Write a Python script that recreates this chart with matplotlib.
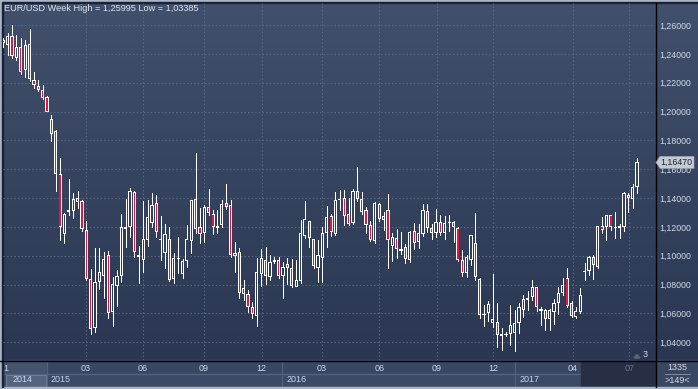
import numpy as np
import matplotlib
matplotlib.use("Agg")
import matplotlib.pyplot as plt
from matplotlib.patches import Rectangle, Polygon
from matplotlib.ticker import FixedLocator

plt.rcParams["font.family"] = ["Liberation Sans", "DejaVu Sans"]

W, H, DPI = 698, 389, 100

# ---------------- data (weekly EUR/USD candles) ----------------
open_ = [1.2475, 1.2461, 1.2524, 1.2369, 1.2445, 1.2288, 1.2466, 1.2216, 1.2175, 1.2147,
         1.2101, 1.1948, 1.1865, 1.1564, 1.1150, 1.1301, 1.1310, 1.1398, 1.1379, 1.1176,
         1.0838, 1.0496, 1.0820, 1.0861, 1.1002, 1.0612, 1.0792, 1.0861, 1.1183, 1.1197,
         1.1442, 1.1007, 1.0970, 1.1109, 1.1225, 1.1363, 1.1111, 1.1016, 1.1113, 1.0836,
         1.0975, 1.0871, 1.0963, 1.1102, 1.1391, 1.1197, 1.1155, 1.1340, 1.1287, 1.1190,
         1.1216, 1.1362, 1.1350, 1.1016, 1.1023, 1.0732, 1.0732, 1.0642, 1.0584, 1.0870,
         1.0969, 1.0854, 1.0958, 1.0969, 1.0861, 1.0942, 1.0916, 1.0785, 1.0824, 1.1138,
         1.1239, 1.1115, 1.0912, 1.0986, 1.1159, 1.1274, 1.1149, 1.1385, 1.1403, 1.1286,
         1.1230, 1.1449, 1.1396, 1.1316, 1.1216, 1.1103, 1.1355, 1.1246, 1.1320, 1.1069,
         1.1126, 1.1043, 1.1062, 1.0969, 1.1170, 1.1092, 1.1149, 1.1309, 1.1189, 1.1156,
         1.1232, 1.1156, 1.1230, 1.1237, 1.1193, 1.0971, 1.0879, 1.0971, 1.1087, 1.0837,
         1.0587, 1.0601, 1.0532, 1.0543, 1.0444, 1.0451, 1.0458, 1.0462, 1.0532, 1.0624,
         1.0694, 1.0710, 1.0786, 1.0629, 1.0620, 1.0560, 1.0608, 1.0675, 1.0740, 1.0844,
         1.0671, 1.0573, 1.0606, 1.0886, 1.0897, 1.0990, 1.0920, 1.1207, 1.1198, 1.1281,
         1.1191, 1.1207, 1.1198, 1.1422, 1.1394, 1.1475]
high = [1.2508, 1.2542, 1.2600, 1.2531, 1.2508, 1.2496, 1.2572, 1.2272, 1.2216, 1.2184,
        1.2108, 1.1976, 1.1872, 1.1680, 1.1294, 1.1532, 1.1437, 1.1449, 1.1386, 1.1238,
        1.0908, 1.1051, 1.1051, 1.1028, 1.1035, 1.0854, 1.0901, 1.1289, 1.1395, 1.1472,
        1.1449, 1.1069, 1.1382, 1.1386, 1.1432, 1.1421, 1.1275, 1.1220, 1.1197, 1.1016,
        1.1127, 1.0975, 1.1213, 1.1386, 1.1710, 1.1333, 1.1352, 1.1462, 1.1317, 1.1317,
        1.1385, 1.1495, 1.1385, 1.1092, 1.1050, 1.0831, 1.0762, 1.0681, 1.0981, 1.1046,
        1.1062, 1.1004, 1.0993, 1.0993, 1.0958, 1.0981, 1.0976, 1.0969, 1.1246, 1.1378,
        1.1239, 1.1119, 1.1108, 1.1200, 1.1343, 1.1292, 1.1442, 1.1454, 1.1454, 1.1401,
        1.1461, 1.1615, 1.1442, 1.1339, 1.1239, 1.1373, 1.1366, 1.1304, 1.1426, 1.1159,
        1.1182, 1.1161, 1.1080, 1.1170, 1.1228, 1.1223, 1.1357, 1.1357, 1.1219, 1.1323,
        1.1283, 1.1272, 1.1283, 1.1242, 1.1202, 1.1041, 1.1006, 1.1142, 1.1299, 1.0844,
        1.0659, 1.0689, 1.0874, 1.0671, 1.0497, 1.0469, 1.0659, 1.0624, 1.0671, 1.0724,
        1.0758, 1.0832, 1.0786, 1.0643, 1.0629, 1.0629, 1.0701, 1.0786, 1.0844, 1.0913,
        1.0689, 1.0647, 1.0775, 1.0948, 1.0999, 1.1006, 1.1207, 1.1267, 1.1283, 1.1283,
        1.1306, 1.1221, 1.1440, 1.1434, 1.1496, 1.1676]
low = [1.2450, 1.2392, 1.2369, 1.2357, 1.2260, 1.2242, 1.2212, 1.2161, 1.2142, 1.2087,
       1.1995, 1.1798, 1.1451, 1.1109, 1.1090, 1.1282, 1.1264, 1.1333, 1.1174, 1.0831,
       1.0457, 1.0473, 1.0767, 1.0709, 1.0566, 1.0515, 1.0653, 1.0820, 1.1063, 1.1132,
       1.0993, 1.0813, 1.0884, 1.1069, 1.1201, 1.1132, 1.0970, 1.0912, 1.0827, 1.0808,
       1.0878, 1.0848, 1.0924, 1.1016, 1.1155, 1.1086, 1.1097, 1.1282, 1.1148, 1.1155,
       1.1200, 1.1322, 1.0993, 1.0889, 1.0704, 1.0693, 1.0612, 1.0566, 1.0515, 1.0792,
       1.0803, 1.0831, 1.0951, 1.0847, 1.0704, 1.0801, 1.0785, 1.0780, 1.0808, 1.1126,
       1.1062, 1.0916, 1.0820, 1.0820, 1.1057, 1.1138, 1.1143, 1.1316, 1.1216, 1.1216,
       1.1223, 1.1380, 1.1292, 1.1154, 1.1101, 1.1089, 1.1242, 1.1177, 1.0912, 1.0963,
       1.0981, 1.1009, 1.0951, 1.0953, 1.1046, 1.1050, 1.1136, 1.1161, 1.1119, 1.1133,
       1.1145, 1.1117, 1.1168, 1.1098, 1.0960, 1.0856, 1.0849, 1.0936, 1.0828, 1.0567,
       1.0509, 1.0548, 1.0504, 1.0370, 1.0347, 1.0444, 1.0382, 1.0338, 1.0462, 1.0578,
       1.0624, 1.0694, 1.0613, 1.0520, 1.0486, 1.0486, 1.0527, 1.0597, 1.0728, 1.0647,
       1.0578, 1.0567, 1.0601, 1.0832, 1.0867, 1.0837, 1.0913, 1.1156, 1.1110, 1.1179,
       1.1121, 1.1121, 1.1168, 1.1306, 1.1329, 1.1434]
close = [1.2495, 1.2524, 1.2387, 1.2450, 1.2272, 1.2461, 1.2223, 1.2184, 1.2149, 1.2096,
         1.1999, 1.1842, 1.1564, 1.1201, 1.1287, 1.1315, 1.1391, 1.1375, 1.1185, 1.0838,
         1.0489, 1.0815, 1.0884, 1.0977, 1.0600, 1.0801, 1.0861, 1.1197, 1.1197, 1.1449,
         1.1023, 1.0989, 1.1113, 1.1268, 1.1352, 1.1162, 1.1116, 1.1148, 1.0831, 1.0982,
         1.0982, 1.0963, 1.1113, 1.1386, 1.1185, 1.1150, 1.1340, 1.1294, 1.1197, 1.1208,
         1.1355, 1.1339, 1.1004, 1.0999, 1.0739, 1.0773, 1.0647, 1.0593, 1.0884, 1.0981,
         1.0861, 1.0956, 1.0969, 1.0861, 1.0923, 1.0912, 1.0792, 1.0831, 1.1154, 1.1253,
         1.1126, 1.0930, 1.1004, 1.1154, 1.1265, 1.1161, 1.1389, 1.1396, 1.1276, 1.1223,
         1.1447, 1.1394, 1.1304, 1.1216, 1.1108, 1.1366, 1.1251, 1.1274, 1.1108, 1.1131,
         1.1043, 1.1032, 1.0974, 1.1166, 1.1085, 1.1154, 1.1320, 1.1193, 1.1154, 1.1232,
         1.1156, 1.1225, 1.1237, 1.1198, 1.0967, 1.0879, 1.0990, 1.1142, 1.0851, 1.0587,
         1.0594, 1.0666, 1.0562, 1.0451, 1.0458, 1.0458, 1.0520, 1.0532, 1.0643, 1.0701,
         1.0705, 1.0786, 1.0643, 1.0613, 1.0562, 1.0624, 1.0675, 1.0740, 1.0798, 1.0652,
         1.0585, 1.0617, 1.0728, 1.0895, 1.0994, 1.0936, 1.1207, 1.1175, 1.1281, 1.1202,
         1.1202, 1.1191, 1.1434, 1.1399, 1.1475, 1.1647]

price_ticks = [1.04, 1.06, 1.08, 1.10, 1.12, 1.14, 1.16, 1.18, 1.20, 1.22, 1.24, 1.26]
price_labels = ["1,04000", "1,06000", "1,08000", "1,10000", "1,12000", "1,14000",
                "1,16000", "1,18000", "1,20000", "1,22000", "1,24000", "1,26000"]
month_labels = ["03", "06", "09", "12", "03", "06", "09", "12", "04", "07"]
month_bar = [18.9, 32.0, 45.9, 59.1, 72.9, 86.0, 99.2, 112.1, 130.3, 143.2]
year_labels = ["2014", "2015", "2016", "2017"]
year_bar = [-0.07, 9.93, 63.85, 117.1]
last_price_label = "1,16470"
title = "EUR/USD Week High = 1,25995 Low = 1,03385"

# ---------------- layout ----------------
fig = plt.figure(figsize=(W / DPI, H / DPI), dpi=DPI)
fig.patch.set_facecolor("#2c3853")

PL, PR, PT, PB = 3, 655, 3, 360
top_c = np.array([0x41, 0x50, 0x6c]) / 255
bot_c = np.array([0x2b, 0x37, 0x52]) / 255

bg = fig.add_axes([0, 0, 1, 1], zorder=0)
bg.set_xlim(0, W); bg.set_ylim(H, 0); bg.axis("off")
t = np.linspace(0, 1, 256)[:, None]
grad = (top_c[None, :] * (1 - t) + bot_c[None, :] * t)[:, None, :]
bg.imshow(grad, extent=(0, W, PB, 0), aspect="auto", interpolation="bilinear")

# overlay under the plot: bottom band and frame
ov = fig.add_axes([0, 0, 1, 1], zorder=1)
ov.set_xlim(0, W); ov.set_ylim(H, 0); ov.axis("off")

ax = fig.add_axes([PL / W, (H - PB) / H, (PR - PL) / W, (PB - PT) / H], zorder=2)
ax.set_facecolor("none")
for s in ax.spines.values():
    s.set_visible(False)
n = len(open_)
x = np.arange(n)
XL = (-0.07, 149.1)
YL = (1.02764, 1.27526)
ax.set_xlim(*XL)
ax.set_ylim(*YL)

px_x = (XL[1] - XL[0]) / (PR - PL)   # data units per pixel (x)
px_y = (YL[1] - YL[0]) / (PB - PT)   # data units per pixel (y)

o = np.array(open_); h = np.array(high); l = np.array(low); c = np.array(close)
top = np.maximum(o, c); bot = np.minimum(o, c)
up = c >= o

ax.vlines(x, top, h, color="white", lw=0.72, antialiased=False, zorder=3)
ax.vlines(x, l, bot, color="white", lw=0.72, antialiased=False, zorder=3)
body_h = np.maximum(top - bot, px_y)
ax.bar(x, body_h, bottom=bot, width=3.2 * px_x, color="white", linewidth=0,
       antialiased=False, zorder=4)
# inner fill: red for falling weeks, background for rising weeks
frac = (YL[1] - (top + bot) / 2) / (YL[1] - YL[0])
inner_cols = [("#e8123c" if not u else tuple(top_c * (1 - f) + bot_c * f))
              for u, f in zip(up, frac)]
inner_h = top - bot - 2 * px_y
mask = inner_h > 0.3 * px_y
ax.bar(x[mask], inner_h[mask], bottom=bot[mask] + px_y, width=1.3 * px_x,
       color=[col for col, m in zip(inner_cols, mask) if m], linewidth=0,
       antialiased=False, zorder=5)

# grid + axes ticks
ax.xaxis.set_major_locator(FixedLocator(month_bar))
ax.set_xticklabels(month_labels)
ax.yaxis.set_major_locator(FixedLocator(price_ticks))
ax.set_yticklabels(price_labels)
ax.yaxis.tick_right()
ax.tick_params(axis="y", length=0, pad=3, labelsize=6.3, labelcolor="#d3dae6")
ax.tick_params(axis="x", length=0, pad=3.0, labelsize=6.5, labelcolor="#c9d6ec")
ax.xaxis.get_ticklabels()[-1].set_color("#69748c")
ax.grid(True, color="#5a6987", lw=0.7, linestyle=(0, (1.5, 2.2)), zorder=1)
ax.set_axisbelow(True)


def bx(i):
    return PL + (i - XL[0]) / (XL[1] - XL[0]) * (PR - PL)


def by(v):
    return PB - (v - YL[0]) / (YL[1] - YL[0]) * (PB - PT)


# bottom band
ov.add_patch(Rectangle((0, 360), W, 29, color="#3a4762", zorder=1))
ov.add_patch(Rectangle((0, 373.5), PR, 13, color="#3d4a66", zorder=1))
ov.add_patch(Rectangle((0, 373.5), PR, 0.8, color="#56627c", zorder=2))
ov.add_patch(Rectangle((3, 361), bx(year_bar[1]) - 3, 12.5, color="#46536e", zorder=1))
ov.add_patch(Rectangle((6, 374.5), bx(year_bar[1]) - 7, 12, facecolor="#56637e",
                       edgecolor="#76839b", lw=0.6, zorder=2))
ov.add_patch(Rectangle((bx(132.1), 361), PR - bx(132.1), 25.5, color="#262f46", zorder=2))
for yb in year_bar[1:]:
    ov.plot([bx(yb), bx(yb)], [361, 386.5], color="#56627c", lw=0.8, zorder=3)
for lab, yb in zip(year_labels, year_bar):
    ov.text(bx(yb) + (10 if lab == "2014" else 4), 380, lab, fontsize=6.5,
            color="#c9d6ec", va="center", ha="left", zorder=4)
ov.text(3.5, 368.5, "1", fontsize=6.5, color="#c9d6ec", va="center", ha="left", zorder=4)
ov.add_patch(Rectangle((0, 386.5), W, 2.5, color="#aab6c8", zorder=3))

# frame lines
ov.add_patch(Rectangle((0, 0), W, 1.6, color="#aab6c8", zorder=5))
ov.add_patch(Rectangle((0, 1.6), W, 1.4, color="#1b2233", zorder=5))
ov.add_patch(Rectangle((0, 0), 1.8, 387, color="#aab6c8", zorder=5))
ov.add_patch(Rectangle((1.8, 1.6), 1.2, 385, color="#1b2233", zorder=5))
ov.plot([PR + 0.5, PR + 0.5], [3, 386.5], color="black", lw=1.0, zorder=5)
ov.plot([0, W], [360.5, 360.5], color="black", lw=1.0, zorder=5)

# right bottom counters
ov.text(677, 367, "1335", fontsize=6.5, color="#d3dae6", ha="center", va="center", zorder=4)
ov.plot([665, 690], [374, 374], color="#8b97ad", lw=0.6, zorder=4)
ov.text(677, 380.5, ">149<", fontsize=6.5, color="#d3dae6", ha="center", va="center", zorder=4)
ov.text(645, 354.5, "3", fontsize=6.5, color="#d3dae6", ha="center", va="center", zorder=4)
ov.add_patch(Polygon([[634, 358], [637, 354.5], [640, 358]], color="#5b667c", zorder=4))

# top overlay: title and last price tag
tp = fig.add_axes([0, 0, 1, 1], zorder=3)
tp.set_xlim(0, W); tp.set_ylim(H, 0); tp.axis("off")
tp.text(4, 8.5, title, fontsize=6.6, color="#dde4ef", ha="left", va="center")
yp = by(close[-1])
tag = Polygon([[656, yp], [660, yp - 6], [694, yp - 6], [694, yp + 6], [660, yp + 6]],
              closed=True, facecolor="#c5cad3", edgecolor="#9aa3b2", lw=0.5)
tp.add_patch(tag)
tp.text(676.5, yp + 0.3, last_price_label, fontsize=6.3, color="#1d2333",
        ha="center", va="center")

fig.savefig("out.png", dpi=DPI, facecolor=fig.get_facecolor())
